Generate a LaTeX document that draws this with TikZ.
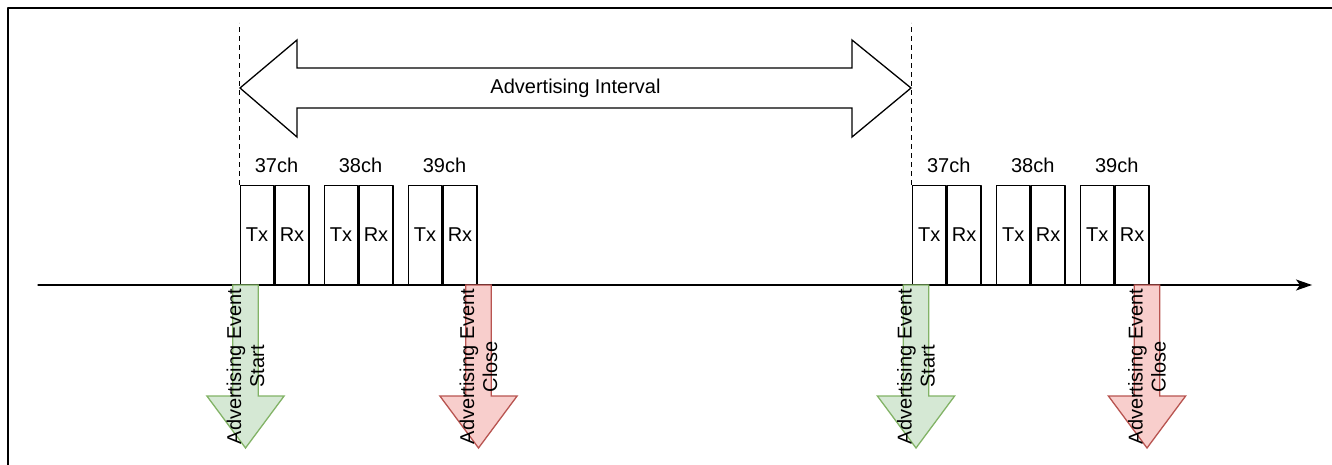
\documentclass[tikz,border=0pt]{standalone}
\usepackage{fontspec}
\setmainfont{Liberation Sans}
\usetikzlibrary{arrows.meta}
\definecolor{startfill}{HTML}{D5E8D4}
\definecolor{startline}{HTML}{82B366}
\definecolor{closefill}{HTML}{F8CECC}
\definecolor{closeline}{HTML}{B85450}
\tikzset{
  slot/.style={draw,fill=white,line width=1.3pt,minimum width=33.7pt,minimum height=99pt,
    inner sep=0pt,anchor=south west},
  chlabel/.style={inner sep=0pt},
  evarrow/.style={line width=1.3pt,line join=miter},
  evtext/.style={rotate=90,align=center,inner sep=0pt}
}
\begin{document}
\begin{tikzpicture}[x=1pt,y=-1pt,line join = round, line cap=round,font=\fontsize{20}{23}\selectfont]
  \useasboundingbox (0,0) rectangle (1332,465);
  % frame
  \draw[line width=2pt,line cap=butt] (8,480) -- (8,8) -- (1345,8);
  % time axis
  \coordinate (t0) at (38,285);
  \coordinate (t1) at (1312,285);
  \draw[line width=1.3pt,-{Stealth[length=16pt,width=11pt,inset=4pt]}] (t0) -- (t1);
  % channel slots
  \foreach \o/\s in {239.5/a,911.7/b}{
    \foreach \g/\c in {0/37,1/38,2/39}{
      \node[slot] (tx-\s-\g) at ({\o+84*\g},285) {Tx};
      \node[slot] (rx-\s-\g) at (tx-\s-\g.south east) {Rx};
      \node[chlabel] (ch-\s-\g) at ({\o+84*\g+37},165) {\c ch};
    }
  }
  % interval marks
  \draw[line width=1.3pt,dash pattern=on 5pt off 4pt,line cap=butt] (tx-a-0.north west) -- ++(0,-162);
  \draw[line width=1.3pt,dash pattern=on 5pt off 4pt,line cap=butt] (tx-b-0.north west) -- ++(0,-162);
  \draw[line width=1.3pt,line join=miter] (240,88) -- (297,40) -- (297,68) -- (852,68) -- (852,40)
    -- (911,88) -- (852,137) -- (852,108) -- (297,108) -- (297,137) -- cycle;
  \node (interval) at (575.5,88) {Advertising Interval};
  % advertising event arrows
  \foreach \x/\k/\t in {245.5/start/Start,478.5/close/Close,916/start/Start,1147/close/Close}{
    \draw[evarrow,draw=\k line,fill=\k fill] (\x-12.8,285) -- (\x+12.8,285) -- (\x+12.8,396)
      -- (\x+38.6,396) -- (\x,448) -- (\x-38.6,396) -- (\x-12.8,396) -- cycle;
    \node[evtext] (ev-\x) at (\x,366.5) {Advertising Event\\\t};
  }
\end{tikzpicture}
\end{document}
